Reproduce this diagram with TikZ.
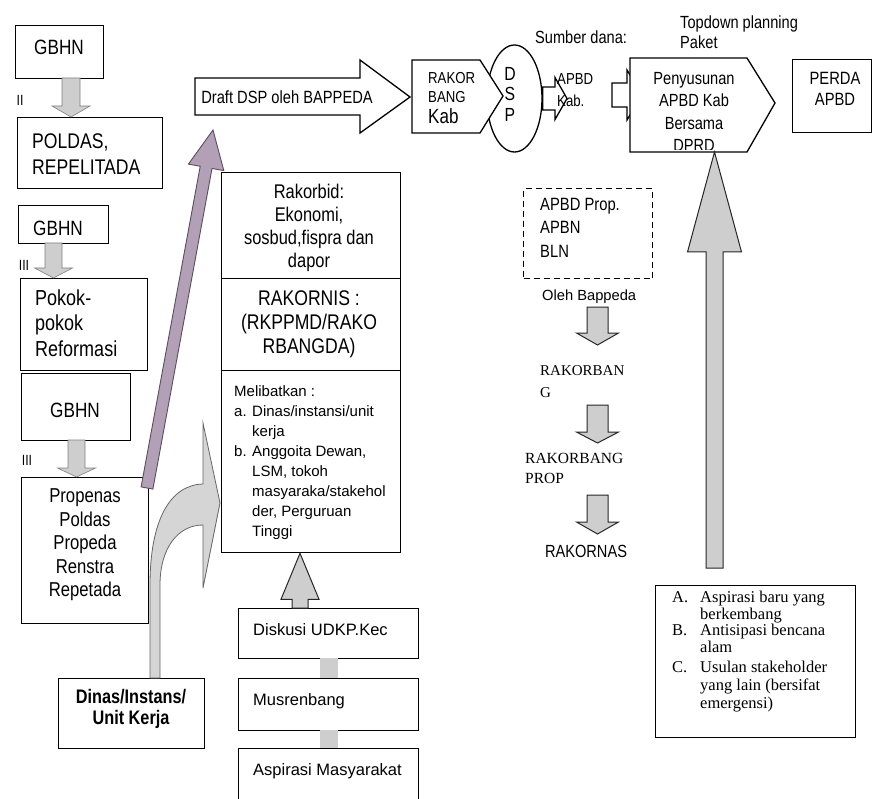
\documentclass[tikz,border=0pt]{standalone}
\usepackage{fontspec}
\setmainfont{Liberation Sans}[FakeStretch=0.83]
\newfontfamily\plainsans{Liberation Sans}
\newfontfamily\serifface{Liberation Serif}
\usetikzlibrary{calc,shapes.geometric}

\definecolor{stipple}{RGB}{206,206,206}
\definecolor{mauve}{RGB}{178,160,182}
\definecolor{mauveline}{RGB}{92,76,94}

\newcommand\fsz[2]{\fontsize{#1}{#2}\selectfont}
% box node from its top-left and bottom-right corners
\newcommand\boxat[5]{\node[box, minimum width={#4-#2}, minimum height={#5-#3}] (#1) at (#2,#3) {};}
% fat block arrows: tail, tip, head length, shaft half width, head half width, style
\newcommand\fatdown[6]{\draw[#6] let \p1=(#1), \p2=(#2) in
  ({\x1-#4pt},\y1) -- ({\x1-#4pt},{\y2+#3pt}) -- ({\x1-#5pt},{\y2+#3pt}) -- (\x1,\y2)
  -- ({\x1+#5pt},{\y2+#3pt}) -- ({\x1+#4pt},{\y2+#3pt}) -- ({\x1+#4pt},\y1) -- cycle;}
\newcommand\fatup[6]{\draw[#6] let \p1=(#1), \p2=(#2) in
  ({\x1-#4pt},\y1) -- ({\x1-#4pt},{\y2-#3pt}) -- ({\x1-#5pt},{\y2-#3pt}) -- (\x1,\y2)
  -- ({\x1+#5pt},{\y2-#3pt}) -- ({\x1+#4pt},{\y2-#3pt}) -- ({\x1+#4pt},\y1) -- cycle;}
\newcommand\fatright[6]{\draw[#6] let \p1=(#1), \p2=(#2) in
  (\x1,{\y1+#4pt}) -- ({\x2-#3pt},{\y1+#4pt}) -- ({\x2-#3pt},{\y1+#5pt}) -- (\x2,\y1)
  -- ({\x2-#3pt},{\y1-#5pt}) -- ({\x2-#3pt},{\y1-#4pt}) -- (\x1,{\y1-#4pt}) -- cycle;}

\begin{document}
\begin{tikzpicture}[x=1pt,y=-1pt,
  box/.style={draw, line width=1.3pt, fill=white, inner sep=0pt, anchor=north west},
  txt/.style={inner sep=0pt, align=center},
  ltxt/.style={inner sep=0pt, align=left, anchor=west},
  toptxt/.style={inner sep=0pt, align=left, anchor=north west},
  lightarrow/.style={fill=stipple, draw=black!50, line width=0.6pt},
  darkarrow/.style={fill=stipple, draw=black!85, line width=1pt},
  shaft/.style={fill=stipple},
  outlinearrow/.style={fill=white, draw=black, line width=1.3pt, line join=miter},
  diagarrow/.style={fill=mauve, draw=mauveline, line width=0.9pt},
  curvearrow/.style={fill=stipple!85, draw=black!60, line width=0.8pt},
]
\useasboundingbox (0,0) rectangle (874,799);

% ---------- left column: GBHN chain ----------
\boxat{g1}{15}{25}{103}{78}
\boxat{pol}{17}{117}{162}{188}
\boxat{g2}{18}{205}{108}{243}
\boxat{ref}{20}{278}{147}{370}
\boxat{g3}{21}{373}{130}{440}
\boxat{prop}{21}{477}{148}{623}
\boxat{din}{58}{678}{204}{748}

\coordinate (t1) at (71,78);
\coordinate (t2) at (53.5,243);
\coordinate (t3) at (76.5,440);
\fatdown{t1}{pol.north}{11}{9}{19}{lightarrow}
\fatdown{t2}{ref.north}{10}{8.5}{19}{lightarrow}
\fatdown{t3}{prop.north}{9}{8.5}{19}{lightarrow}

\node[txt, font=\fsz{20.7}{22}] (g1t) at (59,47) {GBHN};
\node[txt, font=\fsz{14.8}{16}] (n2) at (20,100) {II};
\node[ltxt, font=\fsz{21.2}{26}] (polt) at (32,154) {POLDAS,\\REPELITADA};
\node[txt, font=\fsz{20.7}{22}] (g2t) at (58,228) {GBHN};
\node[txt, font=\fsz{14.8}{16}] (n3a) at (24,265) {III};
\node[ltxt, font=\fsz{21.7}{25.5}] (reft) at (35,323) {Pokok-\\pokok\\Reformasi};
\node[txt, font=\fsz{20.7}{22}] (g3t) at (75,410) {GBHN};
\node[txt, font=\fsz{14.8}{16}] (n3b) at (27,460) {III};
\node[txt, font=\fsz{20.1}{23.5}] (propt) at (85,545) {Propenas\\Poldas\\Propeda\\Renstra\\Repetada};
\node[txt, font=\bfseries\fsz{19.6}{21}] (dint) at (131,709) {Dinas/Instans/\\Unit Kerja};

% ---------- middle column ----------
\boxat{rb}{221}{172}{400}{278}
\boxat{rn}{221}{278}{400}{370}
\boxat{ml}{221}{370}{400}{552}
\boxat{disk}{238}{608}{418}{658}
\boxat{mus}{238}{678}{418}{730}
\boxat{asp}{238}{748}{418}{806}

\coordinate (du) at (300,608);
\fatup{du}{ml.south}{46}{8}{19}{darkarrow}
\fill[shaft] (320,658) rectangle (338,678);
\fill[shaft] (320,730) rectangle (338,748);

\node[txt, font=\fsz{19.8}{23}] (rbt) at (309,228) {Rakorbid:\\Ekonomi,\\sosbud,fispra dan\\dapor};
\node[txt, font=\fsz{21.2}{24}] (rnt) at (309,324) {RAKORNIS :\\(RKPPMD/RAKO\\RBANGDA)};
\node[toptxt, font=\plainsans\fsz{15}{20}] (mlt) at (234,385)
  {Melibatkan :\\\makebox[18pt][l]{a.}Dinas/instansi/unit\\\hspace*{18pt}kerja\\
   \makebox[18pt][l]{b.}Anggoita Dewan,\\\hspace*{18pt}LSM, tokoh\\
   \hspace*{18pt}masyaraka/stakehol\\\hspace*{18pt}der, Perguruan\\\hspace*{18pt}Tinggi};
\node[ltxt, font=\plainsans\fsz{16.5}{20}] (diskt) at (253,630) {Diskusi UDKP.Kec};
\node[ltxt, font=\plainsans\fsz{16.5}{20}] (must) at (253,701) {Musrenbang};
\node[ltxt, font=\plainsans\fsz{16.5}{20}] (aspt) at (253,771) {Aspirasi Masyarakat};

% ---------- top row ----------
\draw[outlinearrow] (195,78) -- (360,78) -- (360,60) -- (410,97) -- (360,133) -- (360,115) -- (195,115) -- cycle;
\node[txt, font=\fsz{17.7}{20}] (draft) at (287,97) {Draft DSP oleh BAPPEDA};

\node[draw, ellipse, line width=1.3pt, fill=white, minimum width=55pt, minimum height=107pt, inner sep=0pt] (dsp) at (514.5,98.5) {};
\draw[outlinearrow] (412,60) -- (480,60) -- (503,96) -- (480,133) -- (412,133) -- cycle;
\node[ltxt, font=\fsz{15.9}{18}] (rk1) at (428,78) {RAKOR};
\node[ltxt, font=\fsz{15.9}{18}] (rk2) at (428,97.5) {BANG};
\node[ltxt, font=\fsz{20.5}{21}] (rk3) at (428,116) {Kab};
\node[txt, font=\fsz{19}{20.5}] (dspt) at (510,94) {D\\S\\P};

\coordinate (a1t) at (567,97);
\fatright{dsp.east}{a1t}{12}{11.5}{21}{outlinearrow}
\node[toptxt, font=\fsz{15.9}{22}] (apbd) at (557,73) {APBD\\Kab.};
\node[ltxt, font=\fsz{17.6}{20}] (sd) at (535,37.5) {Sumber dana:};

\coordinate (a2s) at (612,95);
\coordinate (a2t) at (642,95);
\fatright{a2s}{a2t}{15}{12}{25}{outlinearrow}

\draw[outlinearrow] (630,58) -- (747,58) -- (775,103) -- (747,152) -- (630,152) -- cycle;
\begin{scope}
  \clip (630,58) rectangle (747,150);
  \node[txt, anchor=north, font=\fsz{17.6}{22.5}] (peny) at (694,72) {Penyusunan\\APBD Kab\\Bersama\\DPRD};
\end{scope}
\node[toptxt, font=\fsz{17.6}{20}] (td) at (680,16) {Topdown planning\\Paket};

\boxat{perda}{792}{59}{871}{132}
\node[txt, font=\fsz{17.8}{21}] (perdat) at (835,89) {PERDA\\APBD};

% ---------- slanted and curved arrows ----------
\coordinate (dgs) at (147,488);
\coordinate (dgt) at (213,130);
\coordinate (dgb) at ($(dgt)!38pt!(dgs)$);
\draw[diagarrow] ($(dgs)!6pt!90:(dgt)$) -- ($(dgb)!6pt!-90:(dgs)$) -- ($(dgb)!18pt!-90:(dgs)$)
  -- (dgt) -- ($(dgb)!18pt!90:(dgs)$) -- ($(dgb)!6pt!90:(dgs)$) -- ($(dgs)!6pt!-90:(dgt)$) -- cycle;

\draw[curvearrow] (150,678) -- (150,585) .. controls (150,520) and (170,485) .. (203,484)
  -- (203,423) -- (220,503) -- (203,588) -- (203,525)
  .. controls (178,525) and (160,548) .. (160,585) -- (160,678) -- cycle;

% ---------- right-hand funding column ----------
\node[box, dash pattern=on 6pt off 4pt, minimum width=129pt, minimum height=90pt] (src) at (523,188) {};
\node[toptxt, font=\fsz{17.8}{23.5}] (srct) at (540,198) {APBD Prop.\\APBN\\BLN};
\node[ltxt, font=\plainsans\fsz{14.7}{18}] (oleh) at (542,297) {Oleh Bappeda};

\coordinate (d1s) at (597.5,307); \coordinate (d1e) at (597.5,345);
\coordinate (d2s) at (597.5,405); \coordinate (d2e) at (597.5,443);
\coordinate (d3s) at (597.5,495); \coordinate (d3e) at (597.5,534);
\fatdown{d1s}{d1e}{12}{10.5}{21}{darkarrow}
\fatdown{d2s}{d2e}{11}{10.5}{21}{darkarrow}
\fatdown{d3s}{d3e}{12}{10.5}{21}{darkarrow}

\node[toptxt, font=\serifface\fsz{15}{22}] (rkb) at (540,365) {RAKORBAN\\G};
\node[toptxt, font=\serifface\fsz{15.5}{20}] (rkp) at (525,453) {RAKORBANG\\PROP};
\node[txt, font=\fsz{17.6}{20}] (rkn) at (586,551) {RAKORNAS};

% ---------- emergency inputs ----------
\coordinate (bt) at (714.5,568);
\coordinate (penyb) at (714.5,152);
\fatup{bt}{penyb}{100}{8.5}{27}{darkarrow}

\boxat{lst}{655}{585}{855}{737}
\node[toptxt, font=\serifface\fsz{16.5}{17}] (la) at (672,591)
  {\makebox[28pt][l]{A.}Aspirasi baru yang\\\hspace*{28pt}berkembang};
\node[toptxt, font=\serifface\fsz{16.5}{17}] (lb) at (672,624)
  {\makebox[28pt][l]{B.}Antisipasi bencana\\\hspace*{28pt}alam};
\node[toptxt, font=\serifface\fsz{16.5}{18}] (lc) at (672,661)
  {\makebox[28pt][l]{C.}Usulan stakeholder\\\hspace*{28pt}yang lain (bersifat\\\hspace*{28pt}emergensi)};
\end{tikzpicture}
\end{document}
